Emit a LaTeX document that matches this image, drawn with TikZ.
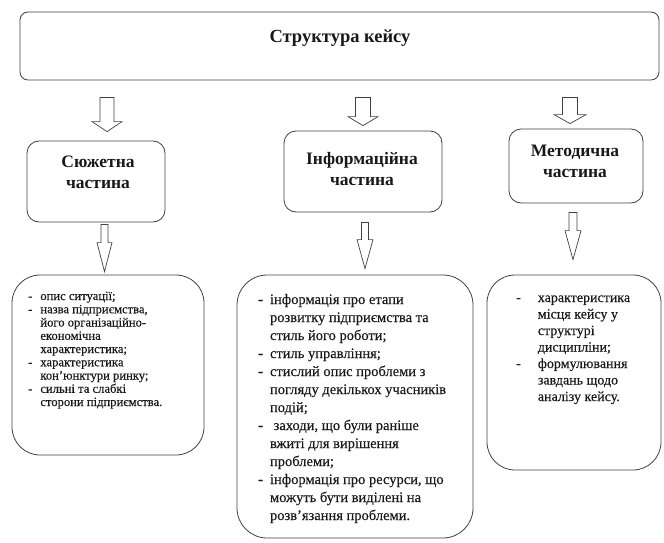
\documentclass[tikz,border=0pt]{standalone}
\usepackage{fontspec}
\setmainfont{Liberation Serif}
\newfontfamily\scanfont[FakeBold=0.3]{Liberation Serif}
\usetikzlibrary{calc}
\tikzset{
  rbox/.style={draw=black!75, line width=0.8pt, rounded corners=#1, inner sep=0pt},
  blockarrow/.style={draw=black!75, line width=0.7pt, fill=white, line join=miter},
  titletext/.style={font=\fontsize{17.5}{21}\selectfont\bfseries, align=center, text=black!90},
  listA/.style={font=\scanfont\fontsize{12.6}{13.25}\selectfont, anchor=base west, inner sep=0pt, text=black!90},
  listB/.style={font=\scanfont\fontsize{14.5}{18}\selectfont, anchor=base west, inner sep=0pt, text=black!90},
  listC/.style={font=\scanfont\fontsize{14}{16.5}\selectfont, anchor=base west, inner sep=0pt, text=black!90},
}
% #1 from, #2 to, #3 x, #4 gap top, #5 gap bottom, #6 half shaft, #7 half head, #8 head length
\newcommand\blockarr[8]{%
  \draw[blockarrow] let \p1=(#1.south), \p2=(#2.north) in
    (#3pt-#6pt, \y1-#4pt) -- (#3pt+#6pt, \y1-#4pt) -- (#3pt+#6pt, \y2+#5pt+#8pt)
    -- (#3pt+#7pt, \y2+#5pt+#8pt) -- (#3pt, \y2+#5pt) -- (#3pt-#7pt, \y2+#5pt+#8pt)
    -- (#3pt-#6pt, \y2+#5pt+#8pt) -- cycle;}
\begin{document}
\begin{tikzpicture}[x=1pt,y=-1pt]
\useasboundingbox (0,0) rectangle (664,543);
% boxes
\node[rbox=8pt, minimum width=639pt, minimum height=68pt] (top) at (339.5,46) {};
\node[titletext, font=\fontsize{18.5}{21}\selectfont\bfseries] (toptxt) at (340,38) {Структура кейсу};

\node[rbox=12pt, minimum width=138pt, minimum height=81pt] (b1) at (96,181.5) {};
\node[titletext] (b1t) at (98,172) {Сюжетна\\частина};

\node[rbox=12pt, minimum width=158pt, minimum height=81pt] (b2) at (363,171.5) {};
\node[titletext] (b2t) at (362,169) {Інформаційна\\частина};

\node[rbox=12pt, minimum width=134pt, minimum height=74pt] (b3) at (576,166) {};
\node[titletext] (b3t) at (575,161) {Методична\\частина};

\node[rbox=28pt, minimum width=192pt, minimum height=180pt] (la) at (108,365) {};
\node[rbox=30pt, minimum width=236pt, minimum height=263pt] (lb) at (355,406.5) {};
\node[rbox=28pt, minimum width=174pt, minimum height=195pt] (lc) at (574,372.5) {};

% list texts
\node[listA] (ta) at (28,300) {\begin{tabular}[t]{@{}l@{\hspace{8pt}}l@{}}
-& опис ситуації;\\
-& назва підприємства,\\
 & його організаційно-\\
 & економічна\\
 & характеристика;\\
-& характеристика\\
 & кон’юнктури ринку;\\
-& сильні та слабкі\\
 & сторони підприємства.
\end{tabular}};

\node[listB] (tb) at (258,304) {\begin{tabular}[t]{@{}l@{\hspace{7pt}}l@{}}
\textbf{-}& інформація про етапи\\
 & розвитку підприємства та\\
 & стиль його роботи;\\
\textbf{-}& стиль управління;\\
\textbf{-}& стислий опис проблеми з\\
 & погляду декількох учасників\\
 & подій;\\
\textbf{-}& \ заходи, що були раніше\\
 & вжиті для вирішення\\
 & проблеми;\\
\textbf{-}& інформація про ресурси, що\\
 & можуть бути виділені на\\
 & розв’язання проблеми.
\end{tabular}};

\node[listC] (tc) at (516,302) {\begin{tabular}[t]{@{}l@{\hspace{17pt}}l@{}}
-& характеристика\\
 & місця кейсу у\\
 & структурі\\
 & дисципліни;\\
-& формулювання\\
 & завдань щодо\\
 & аналізу кейсу.
\end{tabular}};

% block arrows
\blockarr{top}{b1}{107}{17}{9}{7}{15}{10}
\blockarr{top}{b2}{363}{17}{5}{7.5}{15}{9}
\blockarr{top}{b3}{570}{17}{5}{7.5}{16}{9}
\blockarr{b1}{la}{104.5}{2}{3}{3.5}{7.5}{29}
\blockarr{b2}{lb}{365}{10}{6}{3.5}{8}{29}
\blockarr{b3}{lc}{573}{9}{15}{4}{8}{29}
\end{tikzpicture}
\end{document}
